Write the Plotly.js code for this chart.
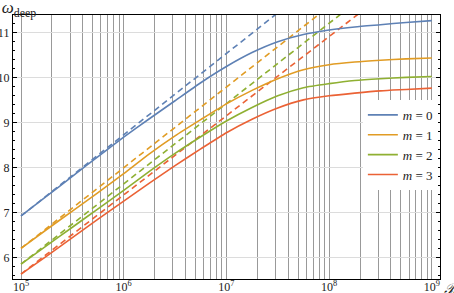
<!DOCTYPE html>
<html>
<head>
<meta charset="utf-8">
<script src="https://cdn.plot.ly/plotly-3.0.1.min.js"></script>
<style>html,body{margin:0;padding:0;background:#fff;}#chart{width:454px;height:293px;}</style>
</head>
<body>
<div id="chart"></div>
<script>
// B values (log-spaced sample points)
const B = [1e5, 1.778e5, 3.162e5, 5.623e5, 1e6, 1.778e6, 3.162e6, 5.623e6, 1e7,
           1.778e7, 3.162e7, 5.623e7, 1e8, 1.778e8, 3.162e8, 5.623e8, 1e9];
const omega_m0 = [6.92, 7.36, 7.80, 8.24, 8.67, 9.08, 9.48, 9.88, 10.24, 10.55, 10.79, 10.95, 11.05, 11.12, 11.17, 11.22, 11.26];
const omega_m1 = [6.20, 6.62, 7.03, 7.44, 7.86, 8.30, 8.70, 9.06, 9.41, 9.71, 9.97, 10.17, 10.28, 10.34, 10.38, 10.41, 10.43];
const omega_m2 = [5.85, 6.26, 6.67, 7.08, 7.49, 7.91, 8.31, 8.68, 9.03, 9.33, 9.59, 9.77, 9.86, 9.93, 9.97, 10.00, 10.02];
const omega_m3 = [5.63, 6.03, 6.44, 6.85, 7.25, 7.65, 8.04, 8.41, 8.77, 9.07, 9.32, 9.50, 9.59, 9.65, 9.70, 9.73, 9.76];

// dashed asymptotes: start and end points
const asymB_m0 = [1e5, 3.24e7];  const asym_m0 = [6.92, 11.45];
const asymB_m1 = [1e5, 8.5e7];   const asym_m1 = [6.20, 11.45];
const asymB_m2 = [1e5, 1.38e8];  const asym_m2 = [5.85, 11.45];
const asymB_m3 = [1e5, 2.04e8];  const asym_m3 = [5.63, 11.45];

// x tick positions (gridlines at every k·10^n) and their labels
const xTickVals = [1e5, 2e5, 3e5, 4e5, 5e5, 6e5, 7e5, 8e5, 9e5,
                   1e6, 2e6, 3e6, 4e6, 5e6, 6e6, 7e6, 8e6, 9e6,
                   1e7, 2e7, 3e7, 4e7, 5e7, 6e7, 7e7, 8e7, 9e7,
                   1e8, 2e8, 3e8, 4e8, 5e8, 6e8, 7e8, 8e8, 9e8, 1e9];
const xTickText = ['10<sup>5</sup>', '', '', '', '', '', '', '', '',
                   '10<sup>6</sup>', '', '', '', '', '', '', '', '',
                   '10<sup>7</sup>', '', '', '', '', '', '', '', '',
                   '10<sup>8</sup>', '', '', '', '', '', '', '', '', '10<sup>9</sup>'];
const yTickVals = [6, 7, 8, 9, 10, 11];

const labels = ['<i>m</i> = 0', '<i>m</i> = 1', '<i>m</i> = 2', '<i>m</i> = 3'];
const colors = ['#5E81B5', '#E19C24', '#8FB032', '#EB6235'];

const solid = [omega_m0, omega_m1, omega_m2, omega_m3];
const asymX = [asymB_m0, asymB_m1, asymB_m2, asymB_m3];
const asymY = [asym_m0, asym_m1, asym_m2, asym_m3];

const traces = [];
for (let i = 0; i < 4; i++) {
  traces.push({x: asymX[i], y: asymY[i], mode: 'lines', type: 'scatter', showlegend: false,
    line: {color: colors[i], width: 1.6, dash: '6px,4px'}, hoverinfo: 'skip'});
}
for (let i = 0; i < 4; i++) {
  traces.push({x: B, y: solid[i], mode: 'lines', type: 'scatter', name: labels[i],
    line: {color: colors[i], width: 1.6, shape: 'spline', smoothing: 0.6}});
}

const serif = 'Liberation Serif, Times New Roman, serif';
const layout = {
  width: 454, height: 293,
  margin: {l: 13, r: 14, t: 15, b: 14, pad: 0},
  paper_bgcolor: '#fff', plot_bgcolor: '#fff',
  font: {family: serif, size: 13, color: '#222'},
  showlegend: true,
  legend: {x: 0.995, xanchor: 'right', y: 0.508, yanchor: 'middle',
    bgcolor: 'rgba(255,255,255,1)', borderwidth: 0, font: {family: serif, size: 13, color: '#222'},
    itemwidth: 30, tracegroupgap: 0},
  title: {text: '<i>ω</i><sub>deep</sub>', x: 0.004, xanchor: 'left', xref: 'container',
    y: 0.995, yanchor: 'top', yref: 'container', font: {family: serif, size: 17, color: '#222'}},
  xaxis: {type: 'log', range: [4.922, 9.08], tickmode: 'array', tickvals: xTickVals, ticktext: xTickText,
    showgrid: true, gridcolor: '#999999', gridwidth: 1,
    ticks: '', showline: true, linecolor: '#000', linewidth: 1.2, mirror: true,
    zeroline: false, tickfont: {family: serif, size: 12, color: '#222'}, ticklabelstandoff: -4},
  yaxis: {range: [5.52, 11.385], tickmode: 'array', tickvals: yTickVals,
    showgrid: true, gridcolor: '#dcdcdc', gridwidth: 1,
    ticks: 'inside', ticklen: 4, tickcolor: '#000', tickwidth: 1,
    minor: {dtick: 0.2, tick0: 0, ticks: 'inside', ticklen: 2, tickcolor: '#000', showgrid: false},
    showline: true, linecolor: '#000', linewidth: 1.2, mirror: 'ticks',
    zeroline: false, tickfont: {family: serif, size: 12, color: '#222'}},
  annotations: [{text: '<i>ℬ</i>', xref: 'paper', yref: 'paper', x: 1.005, y: 0.0,
    xanchor: 'left', yanchor: 'top', showarrow: false, font: {family: serif, size: 15, color: '#222'}}]
};

Plotly.newPlot('chart', traces, layout, {staticPlot: true, displayModeBar: false});
</script>
</body>
</html>
